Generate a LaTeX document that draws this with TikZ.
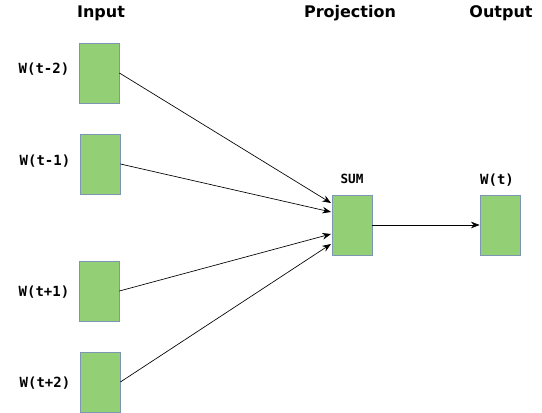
\documentclass[tikz,border=0pt]{standalone}
\usepackage{fontspec}
\setmainfont{DejaVu Sans}
\newfontfamily\monofont{DejaVu Sans Mono}
\usetikzlibrary{arrows.meta}
\definecolor{boxfill}{RGB}{147,207,116}
\definecolor{boxline}{RGB}{125,150,180}
\begin{document}
\begin{tikzpicture}[x=0.75pt,y=-0.75pt,
  vecbox/.style={draw=boxline,fill=boxfill,line width=0.6pt,minimum width=30pt,minimum height=45pt,inner sep=0pt},
  title/.style={font=\bfseries\fontsize{12}{14}\selectfont,inner sep=0pt},
  wlabel/.style={font=\monofont\bfseries\fontsize{10.5}{12}\selectfont,inner sep=0pt},
  conn/.style={line width=0.5pt,-{Stealth[length=6.5pt,width=5pt]}}]
\useasboundingbox (0,0) rectangle (542,413);
\node[title] (tin) at (101,13) {Input};
\node[title] (tpr) at (350,13) {Projection};
\node[title] (tout) at (501,13) {Output};
\node[vecbox] (a) at (99,73) {};
\node[vecbox] (b) at (100,164) {};
\node[vecbox] (c) at (99,291) {};
\node[vecbox] (d) at (100,382) {};
\node[vecbox] (s) at (352,225) {};
\node[vecbox] (o) at (500,225) {};
\node[wlabel] (la) at (44,69) {W(t-2)};
\node[wlabel] (lb) at (45,161) {W(t-1)};
\node[wlabel] (lc) at (44,292) {W(t+1)};
\node[wlabel] (ld) at (45,383) {W(t+2)};
\node[wlabel,font=\monofont\bfseries\fontsize{9.5}{11}\selectfont] (ls) at (352,179) {SUM};
\node[wlabel] (lo) at (497,180) {W(t)};
\coordinate (sa) at (331,203);
\coordinate (sb) at (331,212);
\coordinate (sc) at (331,234);
\coordinate (sd) at (331,244);
\draw[conn] (a.east) -- (sa);
\draw[conn] (b.east) -- (sb);
\draw[conn] (c.east) -- (sc);
\draw[conn] (d.east) -- (sd);
\draw[conn] (s.east) -- (o.west);
\end{tikzpicture}
\end{document}
